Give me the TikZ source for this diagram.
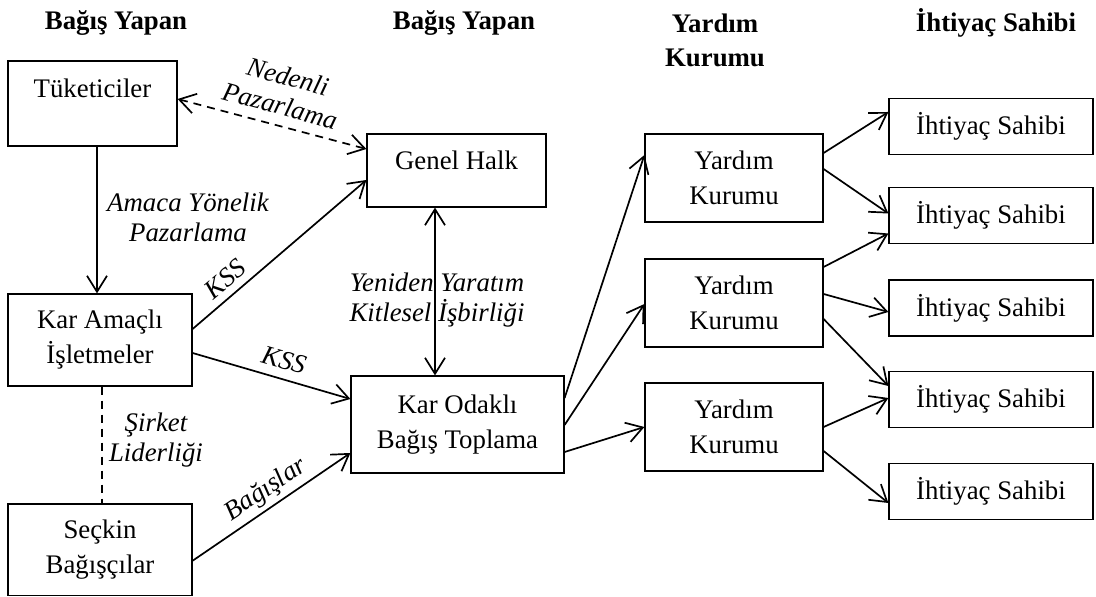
\documentclass[tikz,border=0pt]{standalone}
\usepackage{fontspec}
\setmainfont{Liberation Serif}
\usetikzlibrary{arrows.meta,calc}
\begin{document}
\begin{tikzpicture}[x=0.5pt,y=-0.5pt,
  box/.style={draw, line width=0.6pt, inner sep=0pt, align=center,
    font=\fontsize{13.4}{17.5}\selectfont},
  head/.style={font=\fontsize{13.4}{17}\selectfont\bfseries, align=center, inner sep=0pt},
  lbl/.style={font=\fontsize{13.4}{15}\selectfont\itshape, align=center, inner sep=0pt},
  barb/.tip={Straight Barb[length=8pt,width=10pt]},
  arr/.style={line width=0.85pt, -barb},
  biarr/.style={line width=0.85pt, barb-barb},
  dashline/.style={dash pattern=on 4pt off 3pt},
  ykbox/.style={box, minimum width=89pt, minimum height=44pt},
  ihbox/.style={box, minimum width=102pt, minimum height=28pt}
]
\useasboundingbox (0,0) rectangle (1096,597);

% column headings
\node[head] (h1) at (116,23) {Bağış Yapan};
\node[head] (h2) at (464,23) {Bağış Yapan};
\node[head] (h3) at (715,40) {Yardım\\Kurumu};
\node[head] (h4) at (996,23) {İhtiyaç Sahibi};

% donors
\node[box, minimum width=84.5pt, minimum height=42.5pt, text height=9pt, text depth=15pt] (tuk) at (92.5,103.5) {Tüketiciler};
\node[box, minimum width=92pt, minimum height=46pt] (kam) at (100,340) {Kar Amaçlı\\İşletmeler};
\node[box, minimum width=92pt, minimum height=45.75pt] (sec) at (100,549.75) {Seçkin\\Bağışçılar};
\node[box, minimum width=89.5pt, minimum height=36.5pt, text height=9pt, text depth=10pt] (gh) at (456.5,170.5) {Genel Halk};
\node[box, minimum width=106.5pt, minimum height=48.5pt] (kob) at (457.5,424.5) {Kar Odaklı\\Bağış Toplama};

% aid organisations
\node[ykbox] (yk1) at (734,178) {Yardım\\Kurumu};
\node[ykbox] (yk2) at (734,303) {Yardım\\Kurumu};
\node[ykbox] (yk3) at (734,427) {Yardım\\Kurumu};

% recipients
\node[ihbox] (ih1) at (991,126.5) {İhtiyaç Sahibi};
\node[ihbox] (ih2) at (991,215.5) {İhtiyaç Sahibi};
\node[ihbox] (ih3) at (991,308) {İhtiyaç Sahibi};
\node[ihbox] (ih4) at (991,399.5) {İhtiyaç Sahibi};
\node[ihbox] (ih5) at (991,491.5) {İhtiyaç Sahibi};

% connectors on the donor side
\draw[biarr, dashline] ($(tuk.east)+(0,-4.5)$) -- ($(gh.west)+(0,-21.5)$);
\draw[arr] ($(tuk.south)+(4.5,0)$) coordinate (t1) -- (t1 |- kam.north);
\draw[arr] ($(kam.east)+(0,-11)$) -- ($(gh.west)+(0,9.5)$);
\draw[arr] ($(kam.east)+(0,13)$) -- ($(kob.west)+(0,-25.5)$);
\draw[line width=0.85pt, dashline] ($(kam.south)+(2,0)$) coordinate (k1) -- (k1 |- sec.north);
\draw[arr] ($(sec.east)+(0,11)$) -- ($(kob.west)+(0,28.5)$);
\draw[biarr] ($(gh.south)+(-21.5,0)$) coordinate (g1) -- (g1 |- kob.north);

% fundraising to aid organisations
\draw[arr] ($(kob.east)+(0,-26.5)$) -- ($(yk1.west)+(0,-23)$);
\draw[arr] ($(kob.east)+(0,0.5)$) -- ($(yk2.west)+(0,1)$);
\draw[arr] ($(kob.east)+(0,27.5)$) -- (yk3.west);

% aid organisations to recipients
\draw[arr] ($(yk1.east)+(0,-25)$) -- ($(ih1.west)+(0,-14.5)$);
\draw[arr] ($(yk1.east)+(0,-9)$) -- ($(ih2.west)+(0,-2)$);
\draw[arr] ($(yk2.east)+(0,-36)$) -- ($(ih2.west)+(0,18)$);
\draw[arr] ($(yk2.east)+(0,-9)$) -- ($(ih3.west)+(0,4)$);
\draw[arr] ($(yk2.east)+(0,16)$) -- ($(ih4.west)+(0,-13.5)$);
\draw[arr] (yk3.east) -- ($(ih4.west)+(0,-1.5)$);
\draw[arr] ($(yk3.east)+(0,24)$) -- ($(ih5.west)+(0,11.5)$);

% connector labels
\node[lbl, rotate=-15] (l1) at (284,91) {Nedenli\\Pazarlama};
\node[lbl] (l2) at (188,217) {Amaca Yönelik\\Pazarlama};
\node[lbl, rotate=40] (l3) at (225,279) {KSS};
\node[lbl, rotate=-16] (l4) at (284,360) {KSS};
\node[lbl] (l5) at (156,440) {Şirket\\Liderliği};
\node[lbl, rotate=34] (l6) at (266,490) {Bağışlar};
\node[lbl] (l7) at (437,300) {Yeniden Yaratım\\Kitlesel İşbirliği};
\end{tikzpicture}
\end{document}
